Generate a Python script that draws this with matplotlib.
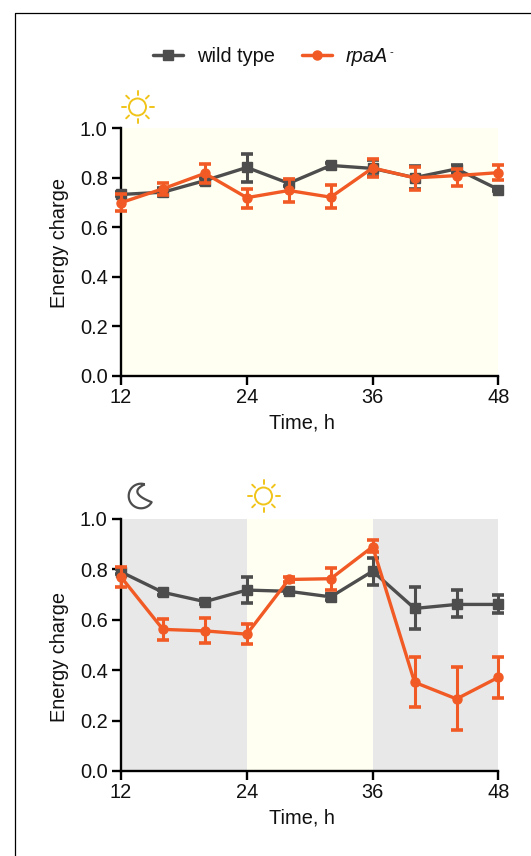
import numpy as np
import matplotlib
matplotlib.use('Agg')
import matplotlib.pyplot as plt
from matplotlib.lines import Line2D
from matplotlib.patches import Circle, PathPatch
from matplotlib.path import Path

plt.rcParams['font.family'] = ['Liberation Sans', 'DejaVu Sans']

W, H = 531, 856
GREY = '#4d4d4d'
ORANGE = '#f15a24'
SUN = '#f0c419'
DAY = '#fffff2'
NIGHT = '#e8e8e8'
FS = 14.4

time = [12, 16, 20, 24, 28, 32, 36, 40, 44, 48]

# top panel, constant light
wt_top = [.732, .741, .788, .841, .777, .849, .837, .800, .835, .752]
wt_top_lo = [.725, .725, .775, .784, .765, .840, .805, .755, .820, .745]
wt_top_hi = [.740, .760, .800, .895, .790, .858, .870, .848, .850, .760]
rpa_top = [.699, .755, .817, .719, .748, .721, .839, .799, .808, .820]
rpa_top_lo = [.665, .728, .777, .679, .703, .679, .801, .751, .768, .791]
rpa_top_hi = [.732, .779, .856, .755, .795, .769, .875, .844, .835, .852]

# bottom panel, dark/light/dark
wt_bot = [.790, .709, .672, .718, .713, .691, .793, .645, .661, .661]
wt_bot_lo = [.780, .700, .662, .668, .705, .680, .739, .563, .611, .628]
wt_bot_hi = [.800, .718, .682, .771, .721, .702, .846, .731, .718, .699]
rpa_bot = [.770, .562, .556, .543, .760, .763, .890, .352, .286, .372]
rpa_bot_lo = [.730, .519, .509, .505, .750, .720, .870, .252, .162, .291]
rpa_bot_hi = [.810, .604, .609, .583, .770, .807, .915, .453, .412, .453]

top_bands = [(12, 48, DAY)]
bot_bands = [(12, 24, NIGHT), (24, 36, DAY), (36, 48, NIGHT)]


def make_axes(y_top, y_bottom):
    left, right = 121, 498.5
    return fig.add_axes([left / W, 1 - y_bottom / H, (right - left) / W, (y_bottom - y_top) / H])


def draw_panel(ax, bands, ylabel_y, wt, wt_lo, wt_hi, rpa, rpa_lo, rpa_hi):
    for a, b, c in bands:
        ax.axvspan(a, b, color=c, lw=0, zorder=0)
    for y, lo, hi, col, mk, ms, z in [(wt, wt_lo, wt_hi, GREY, 's', 7.5, 3),
                                      (rpa, rpa_lo, rpa_hi, ORANGE, 'o', 6.5, 4)]:
        y, lo, hi = np.array(y), np.array(lo), np.array(hi)
        ax.errorbar(time, y, yerr=[y - lo, hi - y], color=col, marker=mk, ms=ms, lw=2.4,
                    elinewidth=2.2, capsize=4.5, capthick=2.6, clip_on=False, zorder=z)
    ax.set_xlim(12, 48)
    ax.set_ylim(0, 1)
    ax.set_xticks([12, 24, 36, 48])
    ax.set_yticks([0, .2, .4, .6, .8, 1])
    ax.set_yticklabels(['0.0', '0.2', '0.4', '0.6', '0.8', '1.0'])
    ax.set_xlabel('Time, h', fontsize=FS, labelpad=4.5, color='#111111', x=0.48)
    ax.set_ylabel('Energy charge', fontsize=FS, labelpad=7.5, color='#111111', y=ylabel_y)
    ax.tick_params(length=6.6, width=1.7, labelsize=FS, labelcolor='#111111')
    ax.tick_params(axis='x', pad=2)
    ax.tick_params(axis='y', pad=3)
    ax.spines[['top', 'right']].set_visible(False)
    ax.spines[['left', 'bottom']].set_linewidth(1.7)
    ax.patch.set_alpha(0)


def draw_sun(ov, cx, cy):
    ov.add_patch(Circle((cx, cy), 8.5, fc='none', ec=SUN, lw=1.4))
    for ang in np.arange(0, 360, 45):
        c, s = np.cos(np.radians(ang)), np.sin(np.radians(ang))
        ov.plot([cx + 12 * c, cx + 16 * c], [cy + 12 * s, cy + 16 * s], color=SUN, lw=1.4,
                solid_capstyle='round')


def draw_moon(ov, cx, cy):
    # crescent: big arc round the left, then a bezier back along the hollow
    outer = np.radians(np.linspace(72, 330, 40))
    xo, yo = cx + 12.3 * np.cos(outer), cy - 12.3 * np.sin(outer)
    t = np.linspace(0, 1, 20)[:, None]
    p0, c0, p1 = np.array([xo[-1], yo[-1]]), np.array([cx - 14, cy - 3.5]), np.array([xo[0], yo[0]])
    hollow = (1 - t) ** 2 * p0 + 2 * t * (1 - t) * c0 + t ** 2 * p1
    verts = np.r_[np.c_[xo, yo], hollow]
    ov.add_patch(PathPatch(Path(verts), fc='none', ec=GREY, lw=1.6, joinstyle='round'))


fig = plt.figure(figsize=(W / 100, H / 100), dpi=100)

ax1 = make_axes(128, 376)
draw_panel(ax1, top_bands, 0.536, wt_top, wt_top_lo, wt_top_hi, rpa_top, rpa_top_lo, rpa_top_hi)
ax2 = make_axes(519, 771)
draw_panel(ax2, bot_bands, 0.452, wt_bot, wt_bot_lo, wt_bot_hi, rpa_bot, rpa_bot_lo, rpa_bot_hi)

# overlay in pixel coordinates for the frame and the icons
ov = fig.add_axes([0, 0, 1, 1], zorder=-1)
ov.set_xlim(0, W)
ov.set_ylim(H, 0)
ov.axis('off')
ov.plot([14.5, 14.5, W], [H, 12.5, 12.5], color='black', lw=0.9)
draw_sun(ov, 137.5, 107)
draw_sun(ov, 263.5, 496)
draw_moon(ov, 141, 496)

handles = [Line2D([], [], color=GREY, marker='s', ms=7, lw=2.5, solid_capstyle='round'),
           Line2D([], [], color=ORANGE, marker='o', ms=6.5, lw=2.5, solid_capstyle='round')]
leg = fig.legend(handles, ['wild type', 'rpaA'], ncol=2, frameon=False, fontsize=FS,
                 loc='center left', bbox_to_anchor=(153 / W, 1 - 56 / H), borderaxespad=0, borderpad=0,
                 handlelength=1.5, handletextpad=0.7, columnspacing=1.35, labelcolor='#111111')
leg.get_texts()[1].set_fontstyle('italic')
ov.text(390, 52, '-', fontsize=8, ha='left', va='center', color='#111111')

fig.savefig('out.png', dpi=100)
